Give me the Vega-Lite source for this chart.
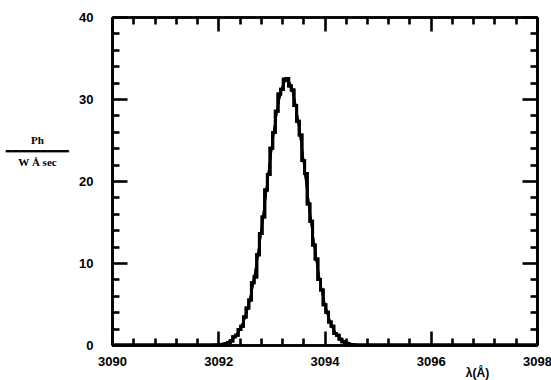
{
  "$schema": "https://vega.github.io/schema/vega-lite/v6.json",
  "width": 425,
  "height": 328,
  "autosize": {"type": "none"},
  "padding": {"left": 112, "top": 17, "right": 14, "bottom": 35},
  "background": "white",
  "config": {
    "view": {"stroke": null},
    "axis": {
      "grid": false,
      "domainColor": "black",
      "domainWidth": 2.6,
      "tickColor": "black",
      "tickWidth": 2.6,
      "labelFont": "Liberation Sans",
      "labelFontWeight": "bold",
      "labelFontSize": 13,
      "labelColor": "black",
      "labelOverlap": false,
      "labelBound": false,
      "labelFlush": false,
      "titleColor": "black"
    }
  },
  "datasets": {
    "hist": [
      {"lambda": 3090.0, "flux": 0},
      {"lambda": 3092.15, "flux": 0},
      {"lambda": 3092.2, "flux": 0.3},
      {"lambda": 3092.25, "flux": 0.5},
      {"lambda": 3092.3, "flux": 1.0},
      {"lambda": 3092.35, "flux": 1.2},
      {"lambda": 3092.4, "flux": 1.9},
      {"lambda": 3092.45, "flux": 2.3},
      {"lambda": 3092.5, "flux": 3.4},
      {"lambda": 3092.55, "flux": 4.5},
      {"lambda": 3092.6, "flux": 5.5},
      {"lambda": 3092.65, "flux": 7.6},
      {"lambda": 3092.7, "flux": 8.3},
      {"lambda": 3092.75, "flux": 11.0},
      {"lambda": 3092.8, "flux": 13.6},
      {"lambda": 3092.85, "flux": 15.6},
      {"lambda": 3092.9, "flux": 18.9},
      {"lambda": 3092.95, "flux": 20.8},
      {"lambda": 3093.0, "flux": 24.0},
      {"lambda": 3093.05, "flux": 25.9},
      {"lambda": 3093.1, "flux": 28.5},
      {"lambda": 3093.15, "flux": 30.6},
      {"lambda": 3093.2, "flux": 31.2},
      {"lambda": 3093.25, "flux": 32.4},
      {"lambda": 3093.3, "flux": 32.5},
      {"lambda": 3093.35, "flux": 31.6},
      {"lambda": 3093.4, "flux": 31.1},
      {"lambda": 3093.45, "flux": 29.2},
      {"lambda": 3093.5, "flux": 27.3},
      {"lambda": 3093.55, "flux": 25.6},
      {"lambda": 3093.6, "flux": 22.5},
      {"lambda": 3093.65, "flux": 20.9},
      {"lambda": 3093.7, "flux": 17.2},
      {"lambda": 3093.75, "flux": 15.1},
      {"lambda": 3093.8, "flux": 12.2},
      {"lambda": 3093.85, "flux": 10.5},
      {"lambda": 3093.9, "flux": 8.0},
      {"lambda": 3093.95, "flux": 6.7},
      {"lambda": 3094.0, "flux": 4.9},
      {"lambda": 3094.05, "flux": 4.0},
      {"lambda": 3094.1, "flux": 2.8},
      {"lambda": 3094.15, "flux": 2.3},
      {"lambda": 3094.2, "flux": 1.4},
      {"lambda": 3094.25, "flux": 1.2},
      {"lambda": 3094.3, "flux": 0.7},
      {"lambda": 3094.35, "flux": 0.4},
      {"lambda": 3094.4, "flux": 0.2},
      {"lambda": 3094.45, "flux": 0},
      {"lambda": 3098.0, "flux": 0}
    ],
    "fit": [
      {"lambda": 3091.9, "flux": 0.04},
      {"lambda": 3092.0, "flux": 0.07},
      {"lambda": 3092.05, "flux": 0.12},
      {"lambda": 3092.1, "flux": 0.18},
      {"lambda": 3092.15, "flux": 0.28},
      {"lambda": 3092.2, "flux": 0.42},
      {"lambda": 3092.25, "flux": 0.62},
      {"lambda": 3092.3, "flux": 0.9},
      {"lambda": 3092.35, "flux": 1.28},
      {"lambda": 3092.4, "flux": 1.79},
      {"lambda": 3092.45, "flux": 2.45},
      {"lambda": 3092.5, "flux": 3.31},
      {"lambda": 3092.55, "flux": 4.37},
      {"lambda": 3092.6, "flux": 5.68},
      {"lambda": 3092.65, "flux": 7.24},
      {"lambda": 3092.7, "flux": 9.06},
      {"lambda": 3092.75, "flux": 11.13},
      {"lambda": 3092.8, "flux": 13.44},
      {"lambda": 3092.85, "flux": 15.93},
      {"lambda": 3092.9, "flux": 18.53},
      {"lambda": 3092.95, "flux": 21.18},
      {"lambda": 3093.0, "flux": 23.76},
      {"lambda": 3093.05, "flux": 26.17},
      {"lambda": 3093.1, "flux": 28.31},
      {"lambda": 3093.15, "flux": 30.07},
      {"lambda": 3093.2, "flux": 31.36},
      {"lambda": 3093.25, "flux": 32.11},
      {"lambda": 3093.3, "flux": 32.29},
      {"lambda": 3093.35, "flux": 31.88},
      {"lambda": 3093.4, "flux": 30.9},
      {"lambda": 3093.45, "flux": 29.42},
      {"lambda": 3093.5, "flux": 27.49},
      {"lambda": 3093.55, "flux": 25.23},
      {"lambda": 3093.6, "flux": 22.74},
      {"lambda": 3093.65, "flux": 20.12},
      {"lambda": 3093.7, "flux": 17.48},
      {"lambda": 3093.75, "flux": 14.91},
      {"lambda": 3093.8, "flux": 12.49},
      {"lambda": 3093.85, "flux": 10.27},
      {"lambda": 3093.9, "flux": 8.3},
      {"lambda": 3093.95, "flux": 6.58},
      {"lambda": 3094.0, "flux": 5.12},
      {"lambda": 3094.05, "flux": 3.92},
      {"lambda": 3094.1, "flux": 2.94},
      {"lambda": 3094.15, "flux": 2.17},
      {"lambda": 3094.2, "flux": 1.57},
      {"lambda": 3094.25, "flux": 1.12},
      {"lambda": 3094.3, "flux": 0.78},
      {"lambda": 3094.35, "flux": 0.53},
      {"lambda": 3094.4, "flux": 0.36},
      {"lambda": 3094.45, "flux": 0.24},
      {"lambda": 3094.5, "flux": 0.15},
      {"lambda": 3094.55, "flux": 0.1},
      {"lambda": 3094.6, "flux": 0.06}
    ]
  },
  "layer": [
    {
      "data": {"name": "hist"},
      "mark": {"type": "line", "interpolate": "step", "color": "black", "strokeWidth": 3},
      "encoding": {
        "x": {
          "field": "lambda",
          "type": "quantitative",
          "scale": {"domain": [3090, 3098], "nice": false, "zero": false},
          "axis": {
            "orient": "bottom",
            "values": [3090, 3092, 3094, 3096, 3098],
            "format": "d",
            "tickSize": -14,
            "labelPadding": 24,
            "title": "λ(Å)",
            "titleFont": "Liberation Sans",
            "titleFontWeight": "bold",
            "titleFontSize": 12,
            "titleX": 365,
            "titleY": 31,
            "titleAlign": "center",
            "titleBaseline": "alphabetic"
          }
        },
        "y": {
          "field": "flux",
          "type": "quantitative",
          "scale": {"domain": [0, 40], "nice": false},
          "axis": {
            "orient": "left",
            "values": [0, 10, 20, 30, 40],
            "format": "d",
            "tickSize": -15,
            "labelPadding": 34,
            "title": ["Ph", "━━━━━━━━━", "W  Å  sec"],
            "titleFont": "Liberation Serif",
            "titleFontWeight": "bold",
            "titleFontSize": 11,
            "titleLineHeight": 11,
            "titleAngle": 0,
            "titleX": -75,
            "titleY": 123,
            "titleAlign": "center",
            "titleBaseline": "middle"
          }
        }
      }
    },
    {
      "data": {"name": "fit"},
      "mark": {"type": "line", "color": "black", "strokeWidth": 2},
      "encoding": {
        "x": {
          "field": "lambda",
          "type": "quantitative",
          "scale": {"domain": [3090, 3098], "nice": false, "zero": false},
          "axis": {
            "orient": "top",
            "values": [3090, 3092, 3094, 3096, 3098],
            "labels": false,
            "tickSize": -14,
            "title": null
          }
        },
        "y": {
          "field": "flux",
          "type": "quantitative",
          "scale": {"domain": [0, 40], "nice": false},
          "axis": {
            "orient": "right",
            "values": [0, 10, 20, 30, 40],
            "labels": false,
            "tickSize": -15,
            "title": null
          }
        }
      }
    },
    {
      "data": {"name": "hist"},
      "mark": {"type": "line", "interpolate": "step", "color": "black", "strokeWidth": 3},
      "encoding": {
        "x": {
          "field": "lambda",
          "type": "quantitative",
          "scale": {"domain": [3090, 3098], "nice": false, "zero": false},
          "axis": {
            "orient": "bottom",
            "values": [3090.4, 3090.8, 3091.2, 3091.6, 3092.4, 3092.8, 3093.2, 3093.6, 3094.4, 3094.8, 3095.2, 3095.6, 3096.4, 3096.8, 3097.2, 3097.6],
            "labels": false,
            "tickSize": -7,
            "title": null
          }
        },
        "y": {
          "field": "flux",
          "type": "quantitative",
          "scale": {"domain": [0, 40], "nice": false},
          "axis": {
            "orient": "left",
            "values": [2, 4, 6, 8, 12, 14, 16, 18, 22, 24, 26, 28, 32, 34, 36, 38],
            "labels": false,
            "tickSize": -7,
            "title": null
          }
        }
      }
    },
    {
      "data": {"name": "fit"},
      "mark": {"type": "line", "color": "black", "strokeWidth": 2},
      "encoding": {
        "x": {
          "field": "lambda",
          "type": "quantitative",
          "scale": {"domain": [3090, 3098], "nice": false, "zero": false},
          "axis": {
            "orient": "top",
            "values": [3090.4, 3090.8, 3091.2, 3091.6, 3092.4, 3092.8, 3093.2, 3093.6, 3094.4, 3094.8, 3095.2, 3095.6, 3096.4, 3096.8, 3097.2, 3097.6],
            "labels": false,
            "tickSize": -7,
            "title": null
          }
        },
        "y": {
          "field": "flux",
          "type": "quantitative",
          "scale": {"domain": [0, 40], "nice": false},
          "axis": {
            "orient": "right",
            "values": [2, 4, 6, 8, 12, 14, 16, 18, 22, 24, 26, 28, 32, 34, 36, 38],
            "labels": false,
            "tickSize": -7,
            "title": null
          }
        }
      }
    }
  ],
  "resolve": {"axis": {"x": "independent", "y": "independent"}}
}
